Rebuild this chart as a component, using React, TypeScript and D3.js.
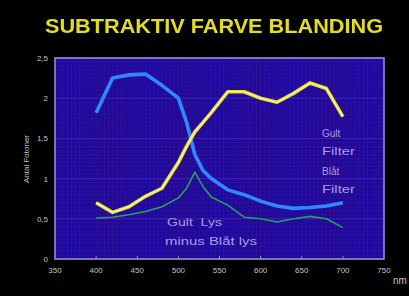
import React from 'react'
import * as d3 from 'd3'

// wavelengths (nm) where the curves were read
const wavelengths = [400, 420, 440, 460, 480, 500, 510, 520, 530, 540, 560, 580, 600, 620, 640, 660, 680, 700]
// Blåt filter
const blueFilter = [1.82, 2.25, 2.29, 2.3, 2.16, 2.0, 1.7, 1.3, 1.1, 1.0, 0.86, 0.8, 0.72, 0.66, 0.63, 0.64, 0.66, 0.7]
// Gult filter
const yellowFilter = [0.7, 0.58, 0.65, 0.78, 0.88, 1.2, 1.4, 1.58, 1.7, 1.82, 2.08, 2.08, 2.0, 1.95, 2.06, 2.19, 2.12, 1.77]
// Gult lys minus Blåt lys
const greenDiff = [0.51, 0.52, 0.55, 0.59, 0.65, 0.76, 0.88, 1.08, 0.9, 0.77, 0.67, 0.52, 0.5, 0.46, 0.5, 0.53, 0.5, 0.39]

const xTicks = [350, 400, 450, 500, 550, 600, 650, 700, 750]
const yTicks = [0, 0.5, 1, 1.5, 2, 2.5]
const yTickLabels = ['0', '0,5', '1', '1,5', '2', '2,5']

const W = 409
const H = 296
const left = 55
const right = 384
const top = 58
const bottom = 259

const App: React.FC = () => {
  const x = d3.scaleLinear().domain([350, 750]).range([left, right])
  const y = d3.scaleLinear().domain([0, 2.5]).range([bottom, top])

  const line = (vals: number[]) =>
    d3
      .line<number>()
      .x((_, i) => x(wavelengths[i]))
      .y(d => y(d))
      .curve(d3.curveLinear)(vals) || ''

  const vGrid = d3.range(350, 751, 5)
  const hGrid = d3.range(0, 2.501, 0.05)

  return (
    <svg
      width={W}
      height={H}
      style={{ position: 'absolute', left: 0, top: 0, background: '#000' }}
      fontFamily="Liberation Sans, Arial, sans-serif"
    >
      <defs>
        <filter id="glow" x="-5%" y="-30%" width="110%" height="160%">
          <feGaussianBlur stdDeviation="0.6" />
        </filter>
      </defs>
      <rect width={W} height={H} fill="#000" />

      {/* title */}
      <text
        x={45}
        y={33}
        fontSize={21}
        fontWeight="bold"
        fill="#e4dc20"
        textLength={338}
        lengthAdjust="spacingAndGlyphs"
        filter="url(#glow)"
      >
        SUBTRAKTIV FARVE BLANDING
      </text>

      {/* plot area */}
      <rect x={left} y={top} width={right - left} height={bottom - top} fill="#1a08a8" />
      <g stroke="#36148a" strokeWidth={0.8} opacity={0.9}>
        {vGrid.map(v => (
          <line key={'v' + v} x1={x(v)} x2={x(v)} y1={top} y2={bottom} />
        ))}
        {hGrid.map(v => (
          <line key={'h' + v} x1={left} x2={right} y1={y(v)} y2={y(v)} />
        ))}
      </g>
      <g stroke="#4a2ab8" strokeWidth={0.8}>
        {yTicks.map(v => (
          <line key={'m' + v} x1={left} x2={right} y1={y(v)} y2={y(v)} />
        ))}
      </g>

      {/* small ticks along the bottom */}
      <g stroke="#9088d0" strokeWidth={1}>
        {xTicks.slice(1, -1).map(v => (
          <line key={'t' + v} x1={x(v)} x2={x(v)} y1={bottom} y2={bottom - 3} />
        ))}
      </g>

      <rect
        x={left}
        y={top}
        width={right - left}
        height={bottom - top}
        fill="none"
        stroke="#9c92d6"
        strokeWidth={1.5}
      />

      {/* curves */}
      <path d={line(greenDiff)} fill="none" stroke="#27a05c" strokeWidth={1.6} strokeLinejoin="round" />
      <path d={line(blueFilter)} fill="none" stroke="#2f88ff" strokeWidth={3.6} strokeLinejoin="round" />
      <path d={line(yellowFilter)} fill="none" stroke="#e6dc28" strokeWidth={3.6} strokeLinejoin="round" />
      <path d={line(yellowFilter)} fill="none" stroke="#fff8c8" strokeWidth={1.1} strokeLinejoin="round" />

      {/* axis labels */}
      <g fill="#c4c4c8" fontSize={8}>
        {xTicks.map(v => (
          <text key={'xl' + v} x={x(v)} y={273} textAnchor="middle">
            {v}
          </text>
        ))}
        {yTicks.map((v, i) => (
          <text key={'yl' + v} x={48} y={y(v) + 3} textAnchor="end">
            {yTickLabels[i]}
          </text>
        ))}
        <text x={393} y={284} fontSize={10}>
          nm
        </text>
        <text transform="translate(29,159) rotate(-90)" textAnchor="middle" fontSize={8}>
          Antal Fotoner
        </text>
      </g>

      {/* annotations */}
      <g fill="#a89ce6" fontSize={10}>
        <text x={322} y={137}>Gult</text>
        <text x={322} y={155} textLength={33} lengthAdjust="spacingAndGlyphs">Filter</text>
        <text x={322} y={175}>Blåt</text>
        <text x={322} y={193} textLength={33} lengthAdjust="spacingAndGlyphs">Filter</text>
        <text x={167} y={226} textLength={55} lengthAdjust="spacingAndGlyphs">
          Gult{'\u00a0\u00a0'}Lys
        </text>
        <text x={165} y={245} textLength={92} lengthAdjust="spacingAndGlyphs">
          minus Blåt lys
        </text>
      </g>
    </svg>
  )
}

export default App
